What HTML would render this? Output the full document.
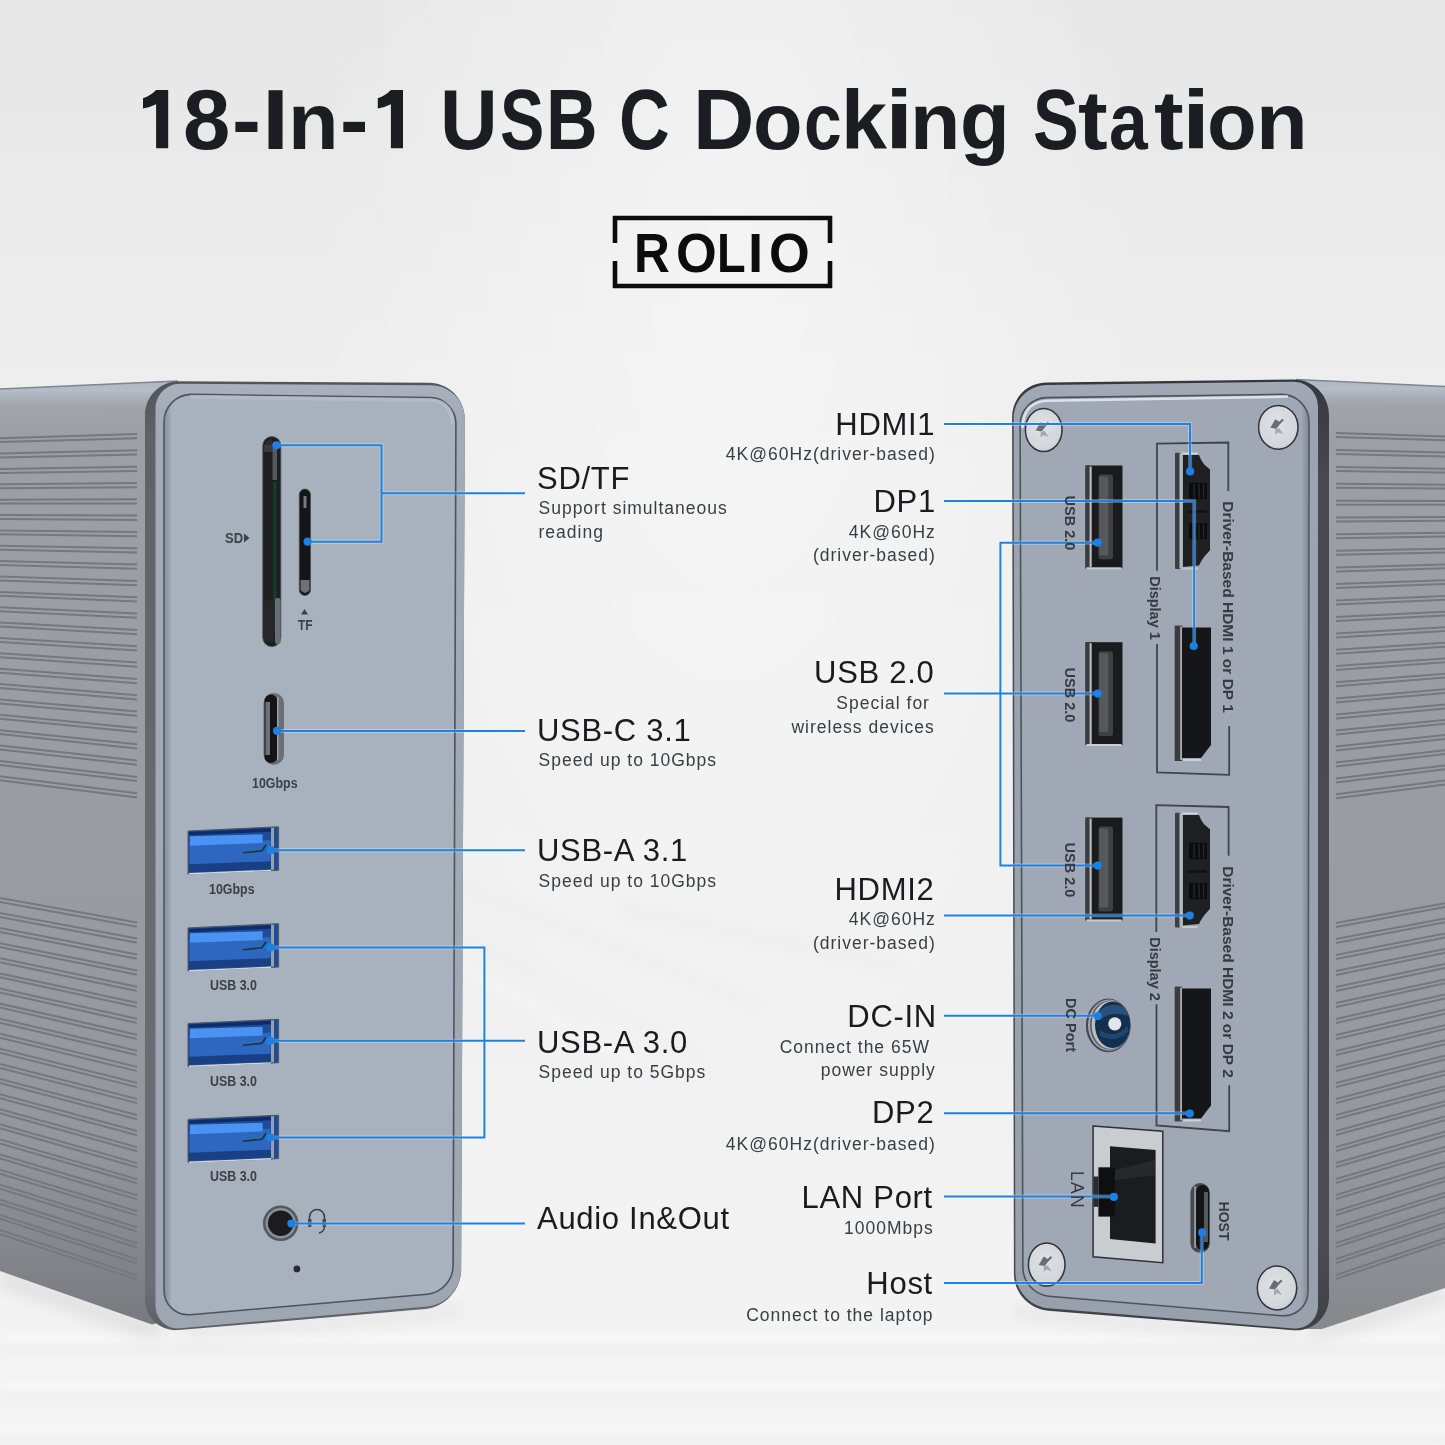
<!DOCTYPE html>
<html><head><meta charset="utf-8"><title>18-In-1 USB C Docking Station</title>
<style>
html,body{margin:0;padding:0;width:1445px;height:1445px;overflow:hidden}
body{position:relative;font-family:"Liberation Sans",sans-serif;
background:radial-gradient(ellipse 420px 900px at 730px 250px,rgba(255,255,255,0.45),rgba(255,255,255,0) 100%),linear-gradient(180deg,#e7e7e7 0px,#eaeaea 200px,#eeeeee 380px,#f0f0f0 700px,#f1f1f1 1000px,#f3f3f3 1300px,#f4f4f4 1445px);}
.t{position:absolute;white-space:pre}
.big{font-size:31px;line-height:1;letter-spacing:0.7px;color:#1b1b1d}
.sm{font-size:17.5px;line-height:1;letter-spacing:1.0px;color:#3a3d45}
.lab{line-height:1;font-weight:bold;color:#3d4047;transform-origin:0 0}
.rl{color:#363a41;transform-origin:50% 50%}
.logo{font-size:56px;line-height:normal;font-weight:bold;color:#0c0c0c;transform-origin:0 0}
.ttl{font-size:86px;line-height:1;font-weight:bold;color:#1b1d22;transform-origin:0 73px}
</style></head><body>
<svg width="1445" height="1445" viewBox="0 0 1445 1445" style="position:absolute;left:0;top:0"><defs>
<filter id="blur6" x="-10%" y="-50%" width="120%" height="200%"><feGaussianBlur stdDeviation="4"/></filter>
<filter id="blur10" x="-10%" y="-50%" width="120%" height="200%"><feGaussianBlur stdDeviation="7"/></filter>
<linearGradient id="sideL" gradientUnits="userSpaceOnUse" x1="0" y1="380" x2="0" y2="1335">
 <stop offset="0" stop-color="#a3a7ae"/><stop offset="0.06" stop-color="#9d9fa4"/><stop offset="0.5" stop-color="#9a9ca1"/>
 <stop offset="0.8" stop-color="#94969b"/><stop offset="0.9" stop-color="#86888d"/><stop offset="1" stop-color="#76787d"/></linearGradient>
<linearGradient id="sideR" gradientUnits="userSpaceOnUse" x1="0" y1="380" x2="0" y2="1335">
 <stop offset="0" stop-color="#a3a7ae"/><stop offset="0.06" stop-color="#9d9fa4"/><stop offset="0.5" stop-color="#9a9ca1"/>
 <stop offset="0.8" stop-color="#96989d"/><stop offset="0.9" stop-color="#8f9196"/><stop offset="1" stop-color="#85878b"/></linearGradient>
<linearGradient id="rimL" x1="0" y1="0" x2="0" y2="1"><stop offset="0" stop-color="#b0b8c4" stop-opacity="0.9"/><stop offset="0.3" stop-color="#b6bfcb" stop-opacity="0.9"/><stop offset="1" stop-color="#a0a3a9" stop-opacity="0"/></linearGradient>
<linearGradient id="frameL" gradientUnits="userSpaceOnUse" x1="0" y1="383" x2="0" y2="1331"><stop offset="0" stop-color="#aab2bf"/><stop offset="0.03" stop-color="#a3abb8"/><stop offset="1" stop-color="#9ea6b2"/></linearGradient>
<linearGradient id="frameR" gradientUnits="userSpaceOnUse" x1="0" y1="383" x2="0" y2="1331"><stop offset="0" stop-color="#a2aab7"/><stop offset="0.03" stop-color="#9ca4b1"/><stop offset="1" stop-color="#98a0ac"/></linearGradient>
<linearGradient id="bevL" gradientUnits="userSpaceOnUse" x1="0" y1="380" x2="0" y2="1335"><stop offset="0" stop-color="#50545b"/><stop offset="0.06" stop-color="#5f6369"/><stop offset="0.5" stop-color="#676a70"/><stop offset="0.95" stop-color="#6b6e74"/><stop offset="1" stop-color="#5a5d63"/></linearGradient>
<linearGradient id="bevR" gradientUnits="userSpaceOnUse" x1="0" y1="380" x2="0" y2="1335"><stop offset="0" stop-color="#35383d"/><stop offset="0.1" stop-color="#46494f"/><stop offset="0.9" stop-color="#4a4d53"/><stop offset="1" stop-color="#3c3f44"/></linearGradient>
<linearGradient id="shL" x1="0" y1="0" x2="1" y2="0"><stop offset="0" stop-color="#5d646e" stop-opacity="0.55"/><stop offset="1" stop-color="#5d646e" stop-opacity="0"/></linearGradient>
<linearGradient id="shR" x1="1" y1="0" x2="0" y2="0"><stop offset="0" stop-color="#5d646e" stop-opacity="0.55"/><stop offset="1" stop-color="#5d646e" stop-opacity="0"/></linearGradient>
<radialGradient id="screw" cx="0.45" cy="0.4" r="0.65"><stop offset="0" stop-color="#dfe1e4"/><stop offset="0.8" stop-color="#d3d6da"/><stop offset="1" stop-color="#c2c6cb"/></radialGradient>
</defs><g filter="url(#blur6)">
<rect x="0" y="1336" width="1445" height="5" fill="#ffffff" opacity="0.7"/>
<rect x="0" y="1347" width="1445" height="4" fill="#e2e2e2" opacity="0.5"/>
<rect x="0" y="1384" width="1445" height="5" fill="#ffffff" opacity="0.7"/>
<rect x="0" y="1393" width="1445" height="4" fill="#e2e2e2" opacity="0.5"/>
<rect x="0" y="1427" width="1445" height="5" fill="#ffffff" opacity="0.7"/>
<rect x="0" y="1436" width="1445" height="4" fill="#e0e0e0" opacity="0.5"/>
<path d="M460 880 L760 1000 L760 1012 L460 892 Z" fill="#e6e6e6" opacity="0.18"/>
<path d="M460 930 L700 1050 L700 1062 L460 942 Z" fill="#e6e6e6" opacity="0.15"/>
<path d="M460 960 L640 1060 L640 1070 L460 970 Z" fill="#fafafa" opacity="0.5"/>
<path d="M620 900 L900 960 L900 975 L620 915 Z" fill="#e8e8e8" opacity="0.25"/>
</g>
<g filter="url(#blur10)">
<path d="M0 1268 L150 1320 L170 1334 L150 1340 L0 1288 Z" fill="#c4c4c4" opacity="0.35"/>
<path d="M1445 1285 L1320 1327 L1300 1336 L1320 1342 L1445 1302 Z" fill="#c4c4c4" opacity="0.35"/>
<path d="M180 1330 L460 1305 L460 1316 L180 1341 Z" fill="#c8c8c8" opacity="0.3"/>
<path d="M1014 1306 L1300 1332 L1300 1343 L1014 1317 Z" fill="#c8c8c8" opacity="0.3"/>
</g>
<path d="M0 389 L178 381 L178 1318 L152 1324.5 L0 1271 Z" fill="url(#sideL)"/>
<path d="M0 389 L178 381 L178 405 L0 414 Z" fill="url(#rimL)"/>
<path d="M0 389 L178 381" stroke="#80868e" stroke-width="1.5"/>
<path d="M0 438.2 L137 434.0 M0 442.1 L137 438.2 M0 453.6 L137 450.3 M0 457.5 L137 454.5 M0 468.9 L137 466.7 M0 472.9 L137 470.9 M0 484.3 L137 483.0 M0 488.2 L137 487.2 M0 499.7 L137 499.3 M0 503.6 L137 503.5 M0 515.0 L137 515.6 M0 519.0 L137 519.9 M0 530.4 L137 532.0 M0 534.3 L137 536.2 M0 545.8 L137 548.3 M0 549.7 L137 552.5 M0 561.1 L137 564.6 M0 565.1 L137 568.8 M0 576.5 L137 581.0 M0 580.4 L137 585.2 M0 591.9 L137 597.3 M0 595.8 L137 601.5 M0 607.2 L137 613.6 M0 611.2 L137 617.8 M0 622.6 L137 630.0 M0 626.5 L137 634.2 M0 638.0 L137 646.3 M0 641.9 L137 650.5 M0 653.3 L137 662.6 M0 657.3 L137 666.8 M0 668.7 L137 679.0 M0 672.7 L137 683.2 M0 684.1 L137 695.3 M0 688.0 L137 699.5 M0 699.4 L137 711.6 M0 703.4 L137 715.8 M0 714.8 L137 727.9 M0 718.8 L137 732.1 M0 730.2 L137 744.3 M0 734.1 L137 748.5 M0 745.5 L137 760.6 M0 749.5 L137 764.8 M0 760.9 L137 776.9 M0 764.9 L137 781.1 M0 776.3 L137 793.3 M0 780.2 L137 797.5 M0 897.9 L137 922.5 M0 901.9 L137 926.7 M0 913.0 L137 938.5 M0 916.9 L137 942.7 M0 928.1 L137 954.6 M0 932.0 L137 958.8 M0 943.2 L137 970.6 M0 947.1 L137 974.8 M0 958.3 L137 986.7 M0 962.2 L137 990.9 M0 973.4 L137 1002.7 M0 977.3 L137 1006.9 M0 988.5 L137 1018.7 M0 992.4 L137 1022.9 M0 1003.6 L137 1034.8 M0 1007.5 L137 1039.0 M0 1018.7 L137 1050.8 M0 1022.6 L137 1055.0 M0 1033.8 L137 1066.9 M0 1037.7 L137 1071.1 M0 1048.8 L137 1082.9 M0 1052.8 L137 1087.1 M0 1063.9 L137 1098.9 M0 1067.9 L137 1103.1 M0 1079.0 L137 1115.0 M0 1083.0 L137 1119.2 M0 1094.1 L137 1131.0 M0 1098.1 L137 1135.2 M0 1109.2 L137 1147.1 M0 1113.2 L137 1151.3 M0 1124.3 L137 1163.1 M0 1128.3 L137 1167.3 M0 1139.4 L137 1179.1 M0 1143.4 L137 1183.3 M0 1154.5 L137 1195.2 M0 1158.5 L137 1199.4 M0 1169.6 L137 1211.2 M0 1173.6 L137 1215.4 M0 1184.7 L137 1227.3 M0 1188.7 L137 1231.5 M0 1199.8 L137 1243.3 M0 1203.7 L137 1247.5 M0 1214.9 L137 1259.3 M0 1218.8 L137 1263.5 M0 1230.0 L137 1275.4 M0 1233.9 L137 1279.6" stroke="#75787d" stroke-width="2" fill="none"/>
<path d="M145.0 415.0 C145.0 396.2 160.2 381.1 179.0 381.2 L429.0 382.8 C448.9 382.9 464.9 399.1 464.8 419.0 L461.2 1270.0 C461.1 1289.9 444.9 1307.4 425.1 1309.1 L178.9 1330.1 C160.2 1331.7 145.0 1317.8 145.0 1299.0 Z" fill="url(#bevL)"/>
<path d="M155.5 408.5 C155.5 394.7 166.7 383.6 180.5 383.7 L431.0 385.3 C449.8 385.4 464.9 400.7 464.9 419.5 L461.1 1269.5 C461.1 1288.3 445.8 1304.8 427.1 1306.5 L180.4 1328.3 C166.6 1329.5 155.5 1319.3 155.5 1305.5 Z" fill="url(#frameL)"/>
<path d="M164.0 422.0 C164.0 406.5 176.5 394.2 192.0 394.4 L430.0 397.6 C444.4 397.8 456.0 409.6 455.9 424.0 L453.1 1266.0 C453.0 1280.4 441.4 1293.0 427.1 1294.2 L190.9 1314.7 C176.0 1316.0 164.0 1304.9 164.0 1290.0 Z" fill="#a8b1be" stroke="#4e535b" stroke-width="1.6"/>
<clipPath id="clipLI"><path d="M164.0 422.0 C164.0 406.5 176.5 394.2 192.0 394.4 L430.0 397.6 C444.4 397.8 456.0 409.6 455.9 424.0 L453.1 1266.0 C453.0 1280.4 441.4 1293.0 427.1 1294.2 L190.9 1314.7 C176.0 1316.0 164.0 1304.9 164.0 1290.0 Z"/></clipPath>
<rect x="163" y="390" width="9" height="935" fill="url(#shL)" clip-path="url(#clipLI)"/>
<path d="M190 396.8 L430 400 Q452 401 452.5 424" fill="none" stroke="#b7c0cc" stroke-width="4" opacity="0.7" clip-path="url(#clipLI)"/>
<rect x="262.8" y="436.6" width="18" height="210" rx="9" fill="#1d1e20" stroke="#4a4d52" stroke-width="0.8"/>
<path d="M264 452 L264 446 Q266 440 272 439 L274 452 Z" fill="#2e2f32"/>
<rect x="264" y="445" width="9" height="7" fill="#3a3b3e"/>
<rect x="272.5" y="448" width="4.5" height="32" fill="#55585c"/>
<rect x="273" y="482" width="3.5" height="150" fill="#183a2c"/>
<rect x="275" y="598" width="5.5" height="46" rx="2" fill="#6a6e73"/>
<rect x="264" y="600" width="10" height="42" rx="2" fill="#26272a"/>
<rect x="299.3" y="489" width="11.2" height="106.5" rx="5.6" fill="#141516" stroke="#4a4d52" stroke-width="0.8"/>
<rect x="303.5" y="496" width="3" height="12" fill="#76797e"/>
<path d="M300.5 580 L309.5 580 L309.5 590 Q305 596 300.5 590 Z" fill="#6e7176"/>
<path d="M244 533.5 L249.5 538 L244 542.5 Z" fill="#3d4047"/>
<path d="M301 614.5 L304.5 609 L308 614.5 Z" fill="#3d4047"/>
<rect x="263.5" y="693" width="20.5" height="71.8" rx="10" fill="#6b6e74"/>
<rect x="264.5" y="694.5" width="13" height="68.5" rx="6.5" fill="#141416"/>
<rect x="265.5" y="702" width="4.5" height="53" fill="#6e7176"/>
<rect x="277" y="697" width="1.5" height="63" fill="#9ea3a9"/>
<path d="M188.0 831.0 L278.6 826.8 L278.6 870.2 L188.0 874.0 Z" fill="#1e4c9a" stroke="#50555c" stroke-width="1"/>
<path d="M189.5 842.8 L270.5 840.3 L270.5 861.8 L189.5 864.8 Z" fill="#2e67bf"/>
<path d="M190.0 836.3 L262.6 834.3 L262.6 843.1 L190.0 845.8 Z" fill="#4a93f2"/>
<path d="M189.0 832.0 L271.0 828.3 L271.0 831.8 L189.0 835.3 Z" fill="#0e2c66"/>
<path d="M189.0 864.3 L271.0 861.3 L271.0 868.8 L189.0 872.3 Z" fill="#1a3f84"/>
<path d="M189 873.8 L271 870.4" stroke="#d2d6db" stroke-width="1.4"/>
<rect x="271" y="827.8" width="3" height="42" fill="#9aa0a8"/>
<path d="M243 852.8 L262 850.8 L266 844.8" stroke="#163a2c" stroke-width="1.6" fill="none"/>
<path d="M188.0 927.9 L278.6 923.7 L278.6 967.1 L188.0 970.9 Z" fill="#1e4c9a" stroke="#50555c" stroke-width="1"/>
<path d="M189.5 939.7 L270.5 937.2 L270.5 958.7 L189.5 961.7 Z" fill="#2e67bf"/>
<path d="M190.0 933.2 L262.6 931.2 L262.6 940.0 L190.0 942.7 Z" fill="#4a93f2"/>
<path d="M189.0 928.9 L271.0 925.2 L271.0 928.7 L189.0 932.2 Z" fill="#0e2c66"/>
<path d="M189.0 961.2 L271.0 958.2 L271.0 965.7 L189.0 969.2 Z" fill="#1a3f84"/>
<path d="M189 970.7 L271 967.3" stroke="#d2d6db" stroke-width="1.4"/>
<rect x="271" y="924.7" width="3" height="42" fill="#9aa0a8"/>
<path d="M243 949.7 L262 947.7 L266 941.7" stroke="#163a2c" stroke-width="1.6" fill="none"/>
<path d="M188.0 1023.5 L278.6 1019.3 L278.6 1062.7 L188.0 1066.5 Z" fill="#1e4c9a" stroke="#50555c" stroke-width="1"/>
<path d="M189.5 1035.3 L270.5 1032.8 L270.5 1054.3 L189.5 1057.3 Z" fill="#2e67bf"/>
<path d="M190.0 1028.8 L262.6 1026.8 L262.6 1035.6 L190.0 1038.3 Z" fill="#4a93f2"/>
<path d="M189.0 1024.5 L271.0 1020.8 L271.0 1024.3 L189.0 1027.8 Z" fill="#0e2c66"/>
<path d="M189.0 1056.8 L271.0 1053.8 L271.0 1061.3 L189.0 1064.8 Z" fill="#1a3f84"/>
<path d="M189 1066.3 L271 1062.9" stroke="#d2d6db" stroke-width="1.4"/>
<rect x="271" y="1020.3" width="3" height="42" fill="#9aa0a8"/>
<path d="M243 1045.3 L262 1043.3 L266 1037.3" stroke="#163a2c" stroke-width="1.6" fill="none"/>
<path d="M188.0 1119.4 L278.6 1115.2 L278.6 1158.6 L188.0 1162.4 Z" fill="#1e4c9a" stroke="#50555c" stroke-width="1"/>
<path d="M189.5 1131.2 L270.5 1128.7 L270.5 1150.2 L189.5 1153.2 Z" fill="#2e67bf"/>
<path d="M190.0 1124.7 L262.6 1122.7 L262.6 1131.5 L190.0 1134.2 Z" fill="#4a93f2"/>
<path d="M189.0 1120.4 L271.0 1116.7 L271.0 1120.2 L189.0 1123.7 Z" fill="#0e2c66"/>
<path d="M189.0 1152.7 L271.0 1149.7 L271.0 1157.2 L189.0 1160.7 Z" fill="#1a3f84"/>
<path d="M189 1162.2 L271 1158.8" stroke="#d2d6db" stroke-width="1.4"/>
<rect x="271" y="1116.2" width="3" height="42" fill="#9aa0a8"/>
<path d="M243 1141.2 L262 1139.2 L266 1133.2" stroke="#163a2c" stroke-width="1.6" fill="none"/>
<circle cx="280.7" cy="1223.3" r="17.8" fill="#55595f"/>
<circle cx="280.7" cy="1223.3" r="15.2" fill="#8c9097"/>
<circle cx="280.7" cy="1223.3" r="12.8" fill="#1c1c1e"/>
<path d="M309.5 1222 L309.5 1217 A7.5 7.5 0 0 1 324.5 1217 L324.5 1222" stroke="#3d4047" stroke-width="1.6" fill="none"/>
<rect x="308" y="1219" width="3.5" height="8" rx="1.2" fill="#3d4047"/><rect x="322.5" y="1219" width="3.5" height="8" rx="1.2" fill="#3d4047"/>
<path d="M324.5 1226 Q324.5 1232 319 1233" stroke="#3d4047" stroke-width="1.4" fill="none"/>
<circle cx="296.9" cy="1268.9" r="3.4" fill="#2a2b2e"/>
<path d="M1300 379.5 L1445 386.5 L1445 1288 L1322 1329 L1300 1329 Z" fill="url(#sideR)"/>
<path d="M1296 379.5 L1445 386.5 L1445 411 L1296 404 Z" fill="url(#rimL)"/>
<path d="M1296 379.5 L1445 386.5" stroke="#80868e" stroke-width="1.5"/>
<path d="M1336 433.0 L1445 436.4 M1336 437.0 L1445 440.2 M1336 450.0 L1445 452.6 M1336 454.0 L1445 456.4 M1336 466.9 L1445 468.8 M1336 470.9 L1445 472.6 M1336 483.8 L1445 484.8 M1336 487.8 L1445 488.6 M1336 500.7 L1445 500.9 M1336 504.7 L1445 504.7 M1336 517.4 L1445 516.9 M1336 521.4 L1445 520.7 M1336 534.2 L1445 532.8 M1336 538.2 L1445 536.6 M1336 550.8 L1445 548.7 M1336 554.8 L1445 552.5 M1336 567.5 L1445 564.5 M1336 571.5 L1445 568.3 M1336 584.0 L1445 580.3 M1336 588.0 L1445 584.1 M1336 600.5 L1445 596.0 M1336 604.5 L1445 599.8 M1336 617.0 L1445 611.7 M1336 621.0 L1445 615.5 M1336 633.4 L1445 627.3 M1336 637.4 L1445 631.1 M1336 649.7 L1445 642.8 M1336 653.7 L1445 646.7 M1336 666.0 L1445 658.4 M1336 670.0 L1445 662.2 M1336 682.2 L1445 673.8 M1336 686.2 L1445 677.6 M1336 698.4 L1445 689.2 M1336 702.4 L1445 693.0 M1336 714.5 L1445 704.6 M1336 718.5 L1445 708.4 M1336 730.6 L1445 719.9 M1336 734.6 L1445 723.7 M1336 746.6 L1445 735.1 M1336 750.6 L1445 738.9 M1336 762.5 L1445 750.3 M1336 766.5 L1445 754.1 M1336 778.4 L1445 765.5 M1336 782.4 L1445 769.3 M1336 794.3 L1445 780.6 M1336 798.3 L1445 784.4 M1336 923.0 L1445 903.2 M1336 927.0 L1445 907.0 M1336 939.0 L1445 918.4 M1336 943.0 L1445 922.2 M1336 955.0 L1445 933.6 M1336 959.0 L1445 937.5 M1336 971.0 L1445 948.9 M1336 975.0 L1445 952.7 M1336 987.0 L1445 964.1 M1336 991.0 L1445 967.9 M1336 1003.0 L1445 979.4 M1336 1007.0 L1445 983.2 M1336 1019.0 L1445 994.6 M1336 1023.0 L1445 998.4 M1336 1035.0 L1445 1009.8 M1336 1039.0 L1445 1013.7 M1336 1051.0 L1445 1025.1 M1336 1055.0 L1445 1028.9 M1336 1067.0 L1445 1040.3 M1336 1071.0 L1445 1044.1 M1336 1083.0 L1445 1055.6 M1336 1087.0 L1445 1059.4 M1336 1099.0 L1445 1070.8 M1336 1103.0 L1445 1074.6 M1336 1115.0 L1445 1086.1 M1336 1119.0 L1445 1089.9 M1336 1131.0 L1445 1101.3 M1336 1135.0 L1445 1105.1 M1336 1147.0 L1445 1116.5 M1336 1151.0 L1445 1120.3 M1336 1163.0 L1445 1131.8 M1336 1167.0 L1445 1135.6 M1336 1179.0 L1445 1147.0 M1336 1183.0 L1445 1150.8 M1336 1195.0 L1445 1162.3 M1336 1199.0 L1445 1166.1 M1336 1211.0 L1445 1177.5 M1336 1215.0 L1445 1181.3 M1336 1227.0 L1445 1192.7 M1336 1231.0 L1445 1196.5 M1336 1243.0 L1445 1208.0 M1336 1247.0 L1445 1211.8 M1336 1259.0 L1445 1223.2 M1336 1263.0 L1445 1227.0 M1336 1275.0 L1445 1238.5 M1336 1279.0 L1445 1242.3" stroke="#75787d" stroke-width="2" fill="none"/>
<path d="M1012.1 417.0 C1012.0 398.2 1027.2 382.8 1046.0 382.6 L1293.0 379.5 C1312.9 379.2 1329.0 395.1 1329.0 415.0 L1329.0 1297.0 C1329.0 1316.9 1312.9 1331.7 1293.1 1330.2 L1047.9 1310.7 C1029.2 1309.2 1014.0 1292.8 1013.9 1274.0 Z" fill="url(#bevR)"/>
<path d="M1013.6 418.5 C1013.5 400.3 1028.3 385.3 1046.5 385.1 L1293.0 381.8 C1306.8 381.6 1318.0 392.7 1318.0 406.5 L1318.0 1305.5 C1318.0 1319.3 1306.8 1329.6 1293.1 1328.4 L1048.4 1308.2 C1030.2 1306.7 1015.5 1290.7 1015.4 1272.5 Z" fill="url(#frameR)"/>
<path d="M1020.1 425.0 C1020.0 410.1 1032.1 397.8 1047.0 397.6 L1281.0 394.4 C1296.5 394.2 1309.0 406.5 1309.0 422.0 L1308.0 1291.0 C1308.0 1305.9 1296.0 1317.0 1281.1 1315.7 L1048.9 1296.2 C1034.6 1295.0 1023.0 1282.4 1022.9 1268.0 Z" fill="#a0a8b5" stroke="#4e535b" stroke-width="1.6"/>
<clipPath id="clipRI"><path d="M1020.1 425.0 C1020.0 410.1 1032.1 397.8 1047.0 397.6 L1281.0 394.4 C1296.5 394.2 1309.0 406.5 1309.0 422.0 L1308.0 1291.0 C1308.0 1305.9 1296.0 1317.0 1281.1 1315.7 L1048.9 1296.2 C1034.6 1295.0 1023.0 1282.4 1022.9 1268.0 Z"/></clipPath>
<rect x="1301" y="390" width="9" height="935" fill="url(#shR)" clip-path="url(#clipRI)"/>
<path d="M1022.5 428 Q1023 403 1046 400.8 L1288 396.6" stroke="#e8ecf1" stroke-width="2.5" fill="none" opacity="0.85"/>
<ellipse cx="1043.7" cy="430.0" rx="18.3" ry="21.5" fill="url(#screw)" stroke="#30343a" stroke-width="1.5"/>
<path transform="translate(1043.7 430.0)" d="M-8 0.5 L-3 -8 L1 -5.5 L4 -8.5 L5.5 -7 L1.5 -3 L-2 1.5 Z" fill="#6a6c71"/>
<path transform="translate(1043.7 430.0)" d="M-3 2 L1 1 L5 7 L0 5 L-3 7.5 Z" fill="#a3a7ac"/>
<ellipse cx="1278.3" cy="427.3" rx="19.7" ry="21.9" fill="url(#screw)" stroke="#30343a" stroke-width="1.5"/>
<path transform="translate(1278.3 427.3)" d="M-8 0.5 L-3 -8 L1 -5.5 L4 -8.5 L5.5 -7 L1.5 -3 L-2 1.5 Z" fill="#6a6c71"/>
<path transform="translate(1278.3 427.3)" d="M-3 2 L1 1 L5 7 L0 5 L-3 7.5 Z" fill="#a3a7ac"/>
<ellipse cx="1046.7" cy="1264.5" rx="18.3" ry="21.5" fill="url(#screw)" stroke="#30343a" stroke-width="1.5"/>
<path transform="translate(1046.7 1264.5)" d="M-8 0.5 L-3 -8 L1 -5.5 L4 -8.5 L5.5 -7 L1.5 -3 L-2 1.5 Z" fill="#6a6c71"/>
<path transform="translate(1046.7 1264.5)" d="M-3 2 L1 1 L5 7 L0 5 L-3 7.5 Z" fill="#a3a7ac"/>
<ellipse cx="1277.0" cy="1288.0" rx="19.7" ry="21.9" fill="url(#screw)" stroke="#30343a" stroke-width="1.5"/>
<path transform="translate(1277.0 1288.0)" d="M-8 0.5 L-3 -8 L1 -5.5 L4 -8.5 L5.5 -7 L1.5 -3 L-2 1.5 Z" fill="#6a6c71"/>
<path transform="translate(1277.0 1288.0)" d="M-3 2 L1 1 L5 7 L0 5 L-3 7.5 Z" fill="#a3a7ac"/>
<rect x="1085.5" y="465.5" width="37" height="102.8" fill="#1a1b1d"/>
<rect x="1085.5" y="465.5" width="4" height="102.8" fill="#3a3c40"/>
<rect x="1089.5" y="466.5" width="2.2" height="100.8" fill="#b7bcc3"/>
<rect x="1098.5" y="474.5" width="14.5" height="84.8" rx="2.5" fill="#3e4044"/>
<rect x="1099.2" y="476.5" width="9" height="78.8" rx="1" fill="#55585c"/>
<rect x="1086.5" y="567.3" width="35" height="2" fill="#c9cdd2"/>
<rect x="1085.5" y="642.2" width="37" height="102.8" fill="#1a1b1d"/>
<rect x="1085.5" y="642.2" width="4" height="102.8" fill="#3a3c40"/>
<rect x="1089.5" y="643.2" width="2.2" height="100.8" fill="#b7bcc3"/>
<rect x="1098.5" y="651.2" width="14.5" height="84.8" rx="2.5" fill="#3e4044"/>
<rect x="1099.2" y="653.2" width="9" height="78.8" rx="1" fill="#55585c"/>
<rect x="1086.5" y="744.0" width="35" height="2" fill="#c9cdd2"/>
<rect x="1085.5" y="817.6" width="37" height="102.8" fill="#1a1b1d"/>
<rect x="1085.5" y="817.6" width="4" height="102.8" fill="#3a3c40"/>
<rect x="1089.5" y="818.6" width="2.2" height="100.8" fill="#b7bcc3"/>
<rect x="1098.5" y="826.6" width="14.5" height="84.8" rx="2.5" fill="#3e4044"/>
<rect x="1099.2" y="828.6" width="9" height="78.8" rx="1" fill="#55585c"/>
<rect x="1086.5" y="919.4" width="35" height="2" fill="#c9cdd2"/>
<rect x="1175" y="452.8" width="5" height="116.2" rx="1" fill="#3c3e42"/>
<rect x="1179.5" y="453.8" width="2.6" height="114.2" fill="#b3b8be"/>
<path d="M1183 455.1 L1199 455.1 Q1201 460.8 1204 464.3 L1210 469.4 L1210 550.2 L1204 557.0 Q1201 561.0 1199 565.5 L1183 567.0 Z" fill="#1f2022"/>
<rect x="1182" y="452.6" width="16" height="2" rx="1" fill="#d2d6db"/>
<rect x="1182" y="567.5" width="16" height="2" rx="1" fill="#c3c7cc"/>
<path d="M1189 482.8 L1207 482.8 L1207 499.3 L1189 499.3 Z" fill="#0c0c0d"/>
<rect x="1193.5" y="483.8" width="1.2" height="14.5" fill="#2a2b2e"/>
<rect x="1198.5" y="483.8" width="1.2" height="14.5" fill="#2a2b2e"/>
<rect x="1203.0" y="483.8" width="1.2" height="14.5" fill="#2a2b2e"/>
<path d="M1189 523.3 L1207 523.3 L1207 539.3 L1189 539.3 Z" fill="#0c0c0d"/>
<rect x="1193.5" y="524.3" width="1.2" height="14.0" fill="#2a2b2e"/>
<rect x="1198.5" y="524.3" width="1.2" height="14.0" fill="#2a2b2e"/>
<rect x="1203.0" y="524.3" width="1.2" height="14.0" fill="#2a2b2e"/>
<rect x="1188" y="510.3" width="19" height="2.5" fill="#0c0c0d" opacity="0.8"/>
<rect x="1175" y="812.7" width="5" height="114.8" rx="1" fill="#3c3e42"/>
<rect x="1179.5" y="813.7" width="2.6" height="112.8" fill="#b3b8be"/>
<path d="M1183 815.0 L1199 815.0 Q1201 820.7 1204 824.2 L1210 829.3 L1210 908.7 L1204 915.5 Q1201 919.5 1199 924.0 L1183 925.5 Z" fill="#1f2022"/>
<rect x="1182" y="812.5" width="16" height="2" rx="1" fill="#d2d6db"/>
<rect x="1182" y="926.0" width="16" height="2" rx="1" fill="#c3c7cc"/>
<path d="M1189 842.7 L1207 842.7 L1207 859.2 L1189 859.2 Z" fill="#0c0c0d"/>
<rect x="1193.5" y="843.7" width="1.2" height="14.5" fill="#2a2b2e"/>
<rect x="1198.5" y="843.7" width="1.2" height="14.5" fill="#2a2b2e"/>
<rect x="1203.0" y="843.7" width="1.2" height="14.5" fill="#2a2b2e"/>
<path d="M1189 883.2 L1207 883.2 L1207 899.2 L1189 899.2 Z" fill="#0c0c0d"/>
<rect x="1193.5" y="884.2" width="1.2" height="14.0" fill="#2a2b2e"/>
<rect x="1198.5" y="884.2" width="1.2" height="14.0" fill="#2a2b2e"/>
<rect x="1203.0" y="884.2" width="1.2" height="14.0" fill="#2a2b2e"/>
<rect x="1188" y="870.2" width="19" height="2.5" fill="#0c0c0d" opacity="0.8"/>
<rect x="1174.7" y="625.6" width="7.5" height="135.4" fill="#3a3c40"/>
<rect x="1180.2" y="626.6" width="2" height="133.4" fill="#a9aeb5"/>
<path d="M1182.0 627.6 L1211.0 627.6 L1211.0 745.0 L1201.0 758.0 L1182.0 758.0 Z" fill="#151617"/>
<rect x="1183" y="759.0" width="18" height="2" fill="#d0d4d9"/>
<rect x="1174.7" y="986.6" width="7.5" height="134.8" fill="#3a3c40"/>
<rect x="1180.2" y="987.6" width="2" height="132.8" fill="#a9aeb5"/>
<path d="M1182.0 988.6 L1211.0 988.6 L1211.0 1105.4 L1201.0 1118.4 L1182.0 1118.4 Z" fill="#151617"/>
<rect x="1183" y="1119.4" width="18" height="2" fill="#d0d4d9"/>
<path d="M1157 570.8 L1157 443.7 L1228.3 442.5 L1228.3 491" stroke="#3f444b" stroke-width="1.8" fill="none"/>
<path d="M1157 644 L1157 772.3 L1229.2 774.9 L1229.2 726" stroke="#3f444b" stroke-width="1.8" fill="none"/>
<path d="M1156.3 932 L1156.3 805.1 L1228.6 807 L1228.6 855.7" stroke="#3f444b" stroke-width="1.8" fill="none"/>
<path d="M1156.5 1004.3 L1156.5 1125.3 L1229.2 1131.2 L1229.2 1085.2" stroke="#3f444b" stroke-width="1.8" fill="none"/>
<ellipse cx="1108.3" cy="1025.4" rx="22.4" ry="26.8" fill="#43474e"/>
<ellipse cx="1109" cy="1025.2" rx="21" ry="25.6" fill="#a3a8af"/>
<ellipse cx="1109.8" cy="1025" rx="19.8" ry="24.6" fill="#565b62"/>
<ellipse cx="1110.6" cy="1025" rx="19" ry="24" fill="#b8bdc4"/>
<ellipse cx="1112.6" cy="1024.8" rx="17.6" ry="23.2" fill="#13304f"/>
<path d="M1098 1012 Q1110 1000 1126 1008 L1128 1016 Q1112 1010 1100 1020 Z" fill="#3d6c9c" opacity="0.55"/>
<path d="M1100 1036 Q1114 1044 1128 1032 L1128 1026 Q1114 1040 1100 1030 Z" fill="#2f5c8a" opacity="0.5"/>
<circle cx="1114.8" cy="1023.8" r="6.6" fill="#e3e5e8"/>
<path d="M1093.1 1125.9 L1162.8 1131.2 L1162.8 1262.7 L1093.1 1256.8 Z" fill="#c9cdd2" stroke="#2e3136" stroke-width="1.5"/>
<path d="M1110.0 1146.3 L1155.6 1150.0 L1155.6 1243.6 L1110.0 1239.0 Z" fill="#1b1c1e"/>
<path d="M1098.4 1167.3 L1114.8 1167.3 L1114.8 1216.6 L1098.4 1216.6 Z" fill="#0e0f10"/>
<rect x="1093.5" y="1176.5" width="5" height="30.3" fill="#2a2b2e"/>
<path d="M1115 1170 L1155 1160 L1155 1175 L1115 1180 Z" fill="#2c2d30" opacity="0.7"/>
<rect x="1190.4" y="1183.1" width="19.5" height="69.7" rx="9.7" fill="#46494e"/>
<rect x="1194.2" y="1186" width="2" height="62" rx="1" fill="#9a9fa6"/>
<rect x="1196" y="1185" width="13" height="65" rx="6.5" fill="#131415"/>
<rect x="1204" y="1192" width="4" height="50" fill="#55585d"/>
<path d="M276.4 445.3 H381.5 V541.7 H307.6 M381.5 493.2 H525 M277.1 730.9 H525 M270.8 850.2 H525 M270.5 947.4 H484.4 V1137.5 H270.5 M270.5 1040.8 H525 M291.4 1223.5 H525 M944 424.1 H1190.1 V471.4 M944 501 H1194.2 V646 M944 693.5 H1097.7 M1097.6 542.7 H1000.4 V865.6 H1097.7 M944 915.5 H1189.8 M944 1015.8 H1097.7 M944 1113.3 H1189.8 M944 1196.6 H1113.9 M944 1283 H1201.8 V1232.4" stroke="#ffffff" stroke-width="4" fill="none" opacity="0.3"/>
<path d="M276.4 445.3 H381.5 V541.7 H307.6 M381.5 493.2 H525 M277.1 730.9 H525 M270.8 850.2 H525 M270.5 947.4 H484.4 V1137.5 H270.5 M270.5 1040.8 H525 M291.4 1223.5 H525 M944 424.1 H1190.1 V471.4 M944 501 H1194.2 V646 M944 693.5 H1097.7 M1097.6 542.7 H1000.4 V865.6 H1097.7 M944 915.5 H1189.8 M944 1015.8 H1097.7 M944 1113.3 H1189.8 M944 1196.6 H1113.9 M944 1283 H1201.8 V1232.4" stroke="#1b81e4" stroke-width="2" fill="none"/>
<circle cx="276.4" cy="445.3" r="4.1" fill="#1b81e4"/>
<circle cx="307.6" cy="541.7" r="4.1" fill="#1b81e4"/>
<circle cx="277.1" cy="730.9" r="4.1" fill="#1b81e4"/>
<circle cx="270.8" cy="850.2" r="4.1" fill="#1b81e4"/>
<circle cx="270.2" cy="947.4" r="4.1" fill="#1b81e4"/>
<circle cx="270.2" cy="1040.8" r="4.1" fill="#1b81e4"/>
<circle cx="270.2" cy="1137.5" r="4.1" fill="#1b81e4"/>
<circle cx="291.4" cy="1223.5" r="4.1" fill="#1b81e4"/>
<circle cx="1190.1" cy="471.4" r="4.1" fill="#1b81e4"/>
<circle cx="1193.7" cy="646.0" r="4.1" fill="#1b81e4"/>
<circle cx="1097.6" cy="542.7" r="4.1" fill="#1b81e4"/>
<circle cx="1097.7" cy="693.6" r="4.1" fill="#1b81e4"/>
<circle cx="1097.7" cy="865.6" r="4.1" fill="#1b81e4"/>
<circle cx="1189.8" cy="915.6" r="4.1" fill="#1b81e4"/>
<circle cx="1097.7" cy="1016.1" r="4.1" fill="#1b81e4"/>
<circle cx="1189.8" cy="1113.5" r="4.1" fill="#1b81e4"/>
<circle cx="1113.9" cy="1196.9" r="4.1" fill="#1b81e4"/>
<circle cx="1202.3" cy="1232.4" r="4.1" fill="#1b81e4"/>
<path transform="translate(0.0 0)" d="M156.1 90 L168.2 90 L168.2 148.3 L156.1 148.3 L156.1 104.3 Q150.5 107.2 143 108.6 L143 98.2 Q151 95.4 156.1 90 Z" fill="#1b1d22"/>
<path transform="translate(234.8 0)" d="M156.1 90 L168.2 90 L168.2 148.3 L156.1 148.3 L156.1 104.3 Q150.5 107.2 143 108.6 L143 98.2 Q151 95.4 156.1 90 Z" fill="#1b1d22"/>
<path d="M615 243 V218 H830 V243 M615 261 V286 H830 V261" stroke="#0c0c0c" stroke-width="4.6" fill="none"/></svg>
<div class="t big" style="left:537.0px;top:462.8px">SD/TF</div>
<div class="t sm" style="left:538.5px;top:500.2px">Support simultaneous</div>
<div class="t sm" style="left:538.5px;top:524.2px">reading</div>
<div class="t big" style="left:537.0px;top:714.8px">USB-C 3.1</div>
<div class="t sm" style="left:538.5px;top:752.2px">Speed up to 10Gbps</div>
<div class="t big" style="left:537.0px;top:834.8px">USB-A 3.1</div>
<div class="t sm" style="left:538.5px;top:872.7px">Speed up to 10Gbps</div>
<div class="t big" style="left:537.0px;top:1026.5px">USB-A 3.0</div>
<div class="t sm" style="left:538.5px;top:1063.8px">Speed up to 5Gbps</div>
<div class="t big" style="left:537.0px;top:1203.1px">Audio In&amp;Out</div>
<div class="t big" style="right:509.7px;top:409.0px">HDMI1</div>
<div class="t sm" style="right:509.2px;top:446.2px">4K@60Hz(driver-based)</div>
<div class="t big" style="right:509.1px;top:485.8px">DP1</div>
<div class="t sm" style="right:509.2px;top:523.7px">4K@60Hz</div>
<div class="t sm" style="right:509.2px;top:547.2px">(driver-based)</div>
<div class="t big" style="right:510.6px;top:657.0px">USB 2.0</div>
<div class="t sm" style="right:509.2px;top:694.7px">Special for </div>
<div class="t sm" style="right:510.2px;top:718.9px">wireless devices</div>
<div class="t big" style="right:510.6px;top:873.8px">HDMI2</div>
<div class="t sm" style="right:509.2px;top:911.2px">4K@60Hz</div>
<div class="t sm" style="right:509.2px;top:934.8px">(driver-based)</div>
<div class="t big" style="right:508.1px;top:1000.5px">DC-IN</div>
<div class="t sm" style="right:509.2px;top:1038.5px">Connect the 65W </div>
<div class="t sm" style="right:509.2px;top:1062.0px">power supply</div>
<div class="t big" style="right:510.6px;top:1097.4px">DP2</div>
<div class="t sm" style="right:509.2px;top:1136.2px">4K@60Hz(driver-based)</div>
<div class="t big" style="right:512.1px;top:1181.5px">LAN Port</div>
<div class="t sm" style="right:511.2px;top:1219.9px">1000Mbps</div>
<div class="t big" style="right:512.1px;top:1267.6px">Host</div>
<div class="t sm" style="right:511.4px;top:1306.6px">Connect to the laptop</div>
<div class="t lab" style="left:225.0px;top:530.7px;font-size:14.5px;transform:scaleX(0.900)">SD</div>
<div class="t lab" style="left:298.2px;top:618.3px;font-size:14.0px;transform:scaleX(0.850)">TF</div>
<div class="t lab" style="left:251.5px;top:776.7px;font-size:13.8px;transform:scaleX(0.900)">10Gbps</div>
<div class="t lab" style="left:208.7px;top:882.9px;font-size:13.8px;transform:scaleX(0.900)">10Gbps</div>
<div class="t lab" style="left:210.3px;top:979.4px;font-size:13.8px;transform:scaleX(0.900)">USB 3.0</div>
<div class="t lab" style="left:210.3px;top:1074.9px;font-size:13.8px;transform:scaleX(0.900)">USB 3.0</div>
<div class="t lab" style="left:210.3px;top:1169.8px;font-size:13.8px;transform:scaleX(0.900)">USB 3.0</div>
<div class="t rl" style="left:1069.8px;top:523.1px;font-size:14.5px;line-height:14.5px;font-weight:bold;letter-spacing:0.0px;transform:translate(-50%,-50%) rotate(90deg) scaleX(1.000)">USB 2.0</div>
<div class="t rl" style="left:1069.8px;top:694.5px;font-size:14.5px;line-height:14.5px;font-weight:bold;letter-spacing:0.0px;transform:translate(-50%,-50%) rotate(90deg) scaleX(1.000)">USB 2.0</div>
<div class="t rl" style="left:1069.8px;top:870.2px;font-size:14.5px;line-height:14.5px;font-weight:bold;letter-spacing:0.0px;transform:translate(-50%,-50%) rotate(90deg) scaleX(1.000)">USB 2.0</div>
<div class="t rl" style="left:1070.8px;top:1025.0px;font-size:14.5px;line-height:14.5px;font-weight:bold;letter-spacing:0.0px;transform:translate(-50%,-50%) rotate(90deg) scaleX(1.000)">DC Port</div>
<div class="t rl" style="left:1076.0px;top:1189.7px;font-size:17.5px;line-height:17.5px;font-weight:normal;letter-spacing:1.3px;transform:translate(-50%,-50%) rotate(90deg) scaleX(1.000)">LAN</div>
<div class="t rl" style="left:1224.3px;top:1221.0px;font-size:14.0px;line-height:14.0px;font-weight:bold;letter-spacing:0.0px;transform:translate(-50%,-50%) rotate(90deg) scaleX(1.000)">HOST</div>
<div class="t rl" style="left:1154.8px;top:608.2px;font-size:14.5px;line-height:14.5px;font-weight:bold;letter-spacing:0.0px;transform:translate(-50%,-50%) rotate(90deg) scaleX(1.000)">Display 1</div>
<div class="t rl" style="left:1154.8px;top:968.5px;font-size:14.5px;line-height:14.5px;font-weight:bold;letter-spacing:0.0px;transform:translate(-50%,-50%) rotate(90deg) scaleX(1.000)">Display 2</div>
<div class="t rl" style="left:1227.8px;top:607.3px;font-size:15.5px;line-height:15.5px;font-weight:bold;letter-spacing:0.0px;transform:translate(-50%,-50%) rotate(90deg) scaleX(1.000)">Driver-Based HDMI 1 or DP 1</div>
<div class="t rl" style="left:1227.8px;top:972.0px;font-size:15.5px;line-height:15.5px;font-weight:bold;letter-spacing:0.0px;transform:translate(-50%,-50%) rotate(90deg) scaleX(1.000)">Driver-Based HDMI 2 or DP 2</div>
<div class="t logo" style="left:634.0px;top:220.2px;transform:scaleX(0.886)">R</div>
<div class="t logo" style="left:675.5px;top:220.2px;transform:scaleX(0.936)">O</div>
<div class="t logo" style="left:716.5px;top:220.2px;transform:scaleX(0.838)">L</div>
<div class="t logo" style="left:747.6px;top:220.2px;transform:scaleX(0.975)">I</div>
<div class="t logo" style="left:768.5px;top:220.2px;transform:scaleX(0.936)">O</div>
<div class="t ttl" style="left:183.0px;top:75.5px;transform:scale(0.9881,1.0000)">8</div>
<div class="t ttl" style="left:232.2px;top:75.5px;transform:scale(1.0091,1.0000)">-</div>
<div class="t ttl" style="left:261.6px;top:75.5px;transform:scale(1.1333,1.0000)">I</div>
<div class="t ttl" style="left:287.5px;top:75.5px;transform:scale(0.9634,0.9200)">n</div>
<div class="t ttl" style="left:340.2px;top:75.5px;transform:scale(0.9909,1.0000)">-</div>
<div class="t ttl" style="left:440.4px;top:75.5px;transform:scale(0.9288,1.0000)">U</div>
<div class="t ttl" style="left:500.4px;top:75.5px;transform:scale(0.7725,1.0000)">S</div>
<div class="t ttl" style="left:545.8px;top:75.5px;transform:scale(0.8308,1.0000)">B</div>
<div class="t ttl" style="left:618.7px;top:75.5px;transform:scale(0.8161,1.0000)">C</div>
<div class="t ttl" style="left:693.2px;top:75.5px;transform:scale(0.9885,1.0000)">D</div>
<div class="t ttl" style="left:753.4px;top:75.5px;transform:scale(0.9435,0.9200)">o</div>
<div class="t ttl" style="left:804.1px;top:75.5px;transform:scale(0.7881,0.9200)">c</div>
<div class="t ttl" style="left:841.3px;top:75.5px;transform:scale(0.9619,0.9700)">k</div>
<div class="t ttl" style="left:884.5px;top:75.5px;transform:scale(1.1833,0.9700)">i</div>
<div class="t ttl" style="left:909.8px;top:75.5px;transform:scale(0.9585,0.9200)">n</div>
<div class="t ttl" style="left:960.2px;top:75.5px;transform:scale(0.9465,0.9400)">g</div>
<div class="t ttl" style="left:1032.6px;top:75.5px;transform:scale(0.7961,1.0000)">S</div>
<div class="t ttl" style="left:1078.2px;top:75.5px;transform:scale(1.0370,0.9650)">t</div>
<div class="t ttl" style="left:1108.9px;top:75.5px;transform:scale(0.8089,0.9200)">a</div>
<div class="t ttl" style="left:1154.0px;top:75.5px;transform:scale(1.0370,0.9650)">t</div>
<div class="t ttl" style="left:1181.5px;top:75.5px;transform:scale(1.1750,0.9700)">i</div>
<div class="t ttl" style="left:1207.2px;top:75.5px;transform:scale(0.9457,0.9200)">o</div>
<div class="t ttl" style="left:1256.0px;top:75.5px;transform:scale(0.9854,0.9200)">n</div>
</body></html>
